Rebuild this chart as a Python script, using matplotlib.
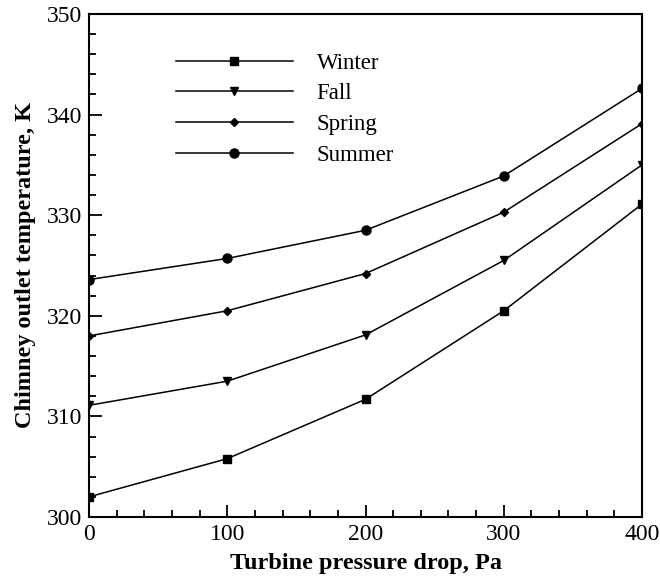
import matplotlib
matplotlib.use("Agg")
import matplotlib.pyplot as plt
from matplotlib.ticker import MultipleLocator

plt.rcParams["font.family"] = ["Liberation Serif", "DejaVu Serif"]

# pressure drop across the turbine, Pa
pressure = [0, 100, 200, 300, 400]

# chimney outlet temperature, K
winter = [302.0, 305.8, 311.7, 320.5, 331.1]
fall = [311.1, 313.5, 318.1, 325.5, 335.0]
spring = [318.0, 320.5, 324.2, 330.3, 339.1]
summer = [323.6, 325.7, 328.5, 333.9, 342.6]

fig = plt.figure(figsize=(6.6, 5.86), dpi=100)
ax = fig.add_axes([89 / 660, 69 / 586, 553 / 660, 503 / 586])

ax.plot(pressure, winter, color="black", lw=1.1, marker="s", ms=5.5, label="Winter")
ax.plot(pressure, fall, color="black", lw=1.1, marker="v", ms=5.5, label="Fall")
ax.plot(pressure, spring, color="black", lw=1.1, marker="D", ms=4.5, label="Spring")
ax.plot(pressure, summer, color="black", lw=1.1, marker="o", ms=6.5, label="Summer")

ax.set_xlim(0, 400)
ax.set_ylim(300, 350)
ax.xaxis.set_major_locator(MultipleLocator(100))
ax.xaxis.set_minor_locator(MultipleLocator(20))
ax.yaxis.set_major_locator(MultipleLocator(10))
ax.yaxis.set_minor_locator(MultipleLocator(2))
ax.tick_params(which="both", direction="in", top=False, right=False, width=1.3, labelsize=17, pad=5)
ax.tick_params(which="major", length=9)
ax.tick_params(which="minor", length=5)
for s in ax.spines.values():
    s.set_linewidth(1.5)

ax.set_xlabel("Turbine pressure drop, Pa", fontsize=17.5, fontweight="bold", labelpad=6)
ax.set_ylabel("Chimney outlet temperature, K", fontsize=17.5, fontweight="bold", labelpad=8)

ax.legend(loc="upper left", bbox_to_anchor=(0.157, 0.923), frameon=False, fontsize=16.5,
          handlelength=5.1, handletextpad=1.05, labelspacing=0.42, borderpad=0, borderaxespad=0)

fig.savefig("out.png", dpi=100)
